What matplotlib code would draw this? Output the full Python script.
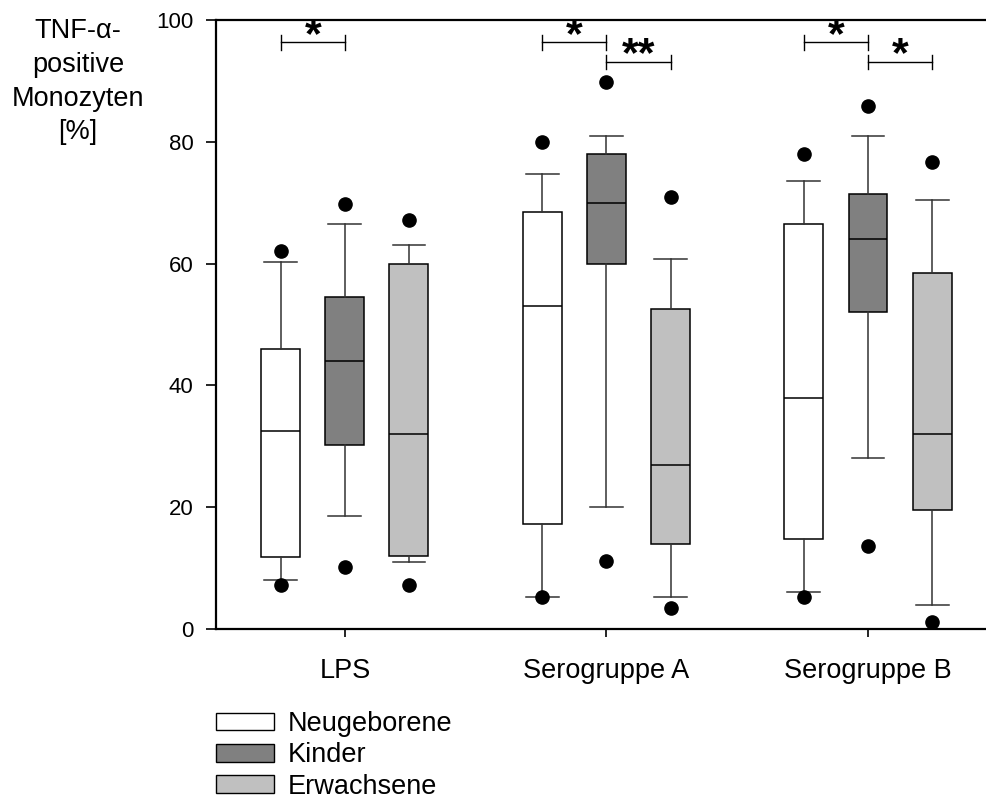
import matplotlib.pyplot as plt
from matplotlib.patches import Patch

plt.rcParams['font.family'] = ['Liberation Sans', 'DejaVu Sans']

# ======================
# Données
# ======================
categories = ["LPS", "Serogruppe A", "Serogruppe B"]
groupes = ["Neugeborene", "Kinder", "Erwachsene"]
couleurs = ["#ffffff", "#808080", "#c0c0c0"]

# une ligne par catégorie, une valeur par groupe
whisker_low = [[8.0, 18.5, 11.0], [5.2, 20.0, 5.3], [6.0, 28.0, 4.0]]
q1 = [[11.8, 30.2, 12.0], [17.2, 60.0, 14.0], [14.8, 52.0, 19.5]]
medians = [[32.5, 44.0, 32.0], [53.0, 70.0, 27.0], [38.0, 64.0, 32.0]]
q3 = [[46.0, 54.5, 60.0], [68.5, 78.0, 52.5], [66.5, 71.5, 58.5]]
whisker_high = [[60.3, 66.5, 63.0], [74.7, 81.0, 60.8], [73.5, 81.0, 70.4]]
outliers = [[[62.0, 7.2], [69.8, 10.2], [67.2, 7.2]],
            [[80.0, 5.2], [89.8, 11.2], [71.0, 3.4]],
            [[78.0, 5.2], [85.8, 13.7], [76.7, 1.2]]]

# signifikanz: (catégorie, groupe a, groupe b, hauteur, texte)
signif = [(0, 0, 1, 96.3, "*"),
          (1, 0, 1, 96.3, "*"),
          (1, 1, 2, 93.1, "**"),
          (2, 0, 1, 96.3, "*"),
          (2, 1, 2, 93.1, "*")]

offset = 0.245
largeur = 0.149

# ======================
# Figure
# ======================
fig = plt.figure(figsize=(9.87, 7.98), dpi=100)
ax = fig.add_axes([0.2188, 0.2118, 0.7812, 0.7632])

for c in range(len(categories)):
    for g in range(len(groupes)):
        stats = [{
            "whislo": whisker_low[c][g], "q1": q1[c][g], "med": medians[c][g],
            "q3": q3[c][g], "whishi": whisker_high[c][g],
            "fliers": outliers[c][g],
        }]
        pos = c + 1 + (g - 1) * offset
        ax.bxp(stats, positions=[pos], widths=largeur, capwidths=0.126,
               patch_artist=True, manage_ticks=False,
               boxprops=dict(facecolor=couleurs[g], edgecolor="black", linewidth=1.1),
               medianprops=dict(color="black", linewidth=1.1),
               whiskerprops=dict(color="#333333", linewidth=1.1),
               capprops=dict(color="#333333", linewidth=1.1),
               flierprops=dict(marker="o", markerfacecolor="black",
                               markeredgecolor="black", markersize=9.5,
                               clip_on=False))

# crochets de signifikanz
for c, a, b, h, txt in signif:
    xa = c + 1 + (a - 1) * offset
    xb = c + 1 + (b - 1) * offset
    ax.plot([xa, xb], [h, h], color="black", lw=1.0)
    ax.plot([xa, xa], [h - 1.2, h + 1.2], color="black", lw=1.0)
    ax.plot([xb, xb], [h - 1.2, h + 1.2], color="black", lw=1.0)
    ax.text((xa + xb) / 2, h - 0.7, txt, ha="center", va="baseline",
            fontsize=31, fontweight="bold")

ax.set_xlim(0.507, 3.455)
ax.set_ylim(0, 100)
ax.set_yticks([0, 20, 40, 60, 80, 100])
ax.set_xticks([1, 2, 3])
ax.set_xticklabels(categories, fontsize=19.5)
ax.tick_params(axis="y", labelsize=16, length=7, width=1.2, pad=9)
ax.tick_params(axis="x", length=6, width=1.2, pad=15)
ax.spines["right"].set_visible(False)
for s in ["left", "top", "bottom"]:
    ax.spines[s].set_linewidth(1.6)

fig.text(0.079, 0.977, "TNF-α-\npositive\nMonozyten\n[%]", ha="center",
         va="top", fontsize=19.5, multialignment="center", linespacing=1.38)

handles = [Patch(facecolor=col, edgecolor="black", linewidth=1.0) for col in couleurs]
fig.legend(handles, groupes, loc="upper left", bbox_to_anchor=(0.219, 0.109),
           frameon=False, fontsize=19.5, borderpad=0, borderaxespad=0,
           handlelength=2.15, handleheight=0.63, handletextpad=0.5,
           labelspacing=0.2)

fig.savefig("out.png", dpi=100)
